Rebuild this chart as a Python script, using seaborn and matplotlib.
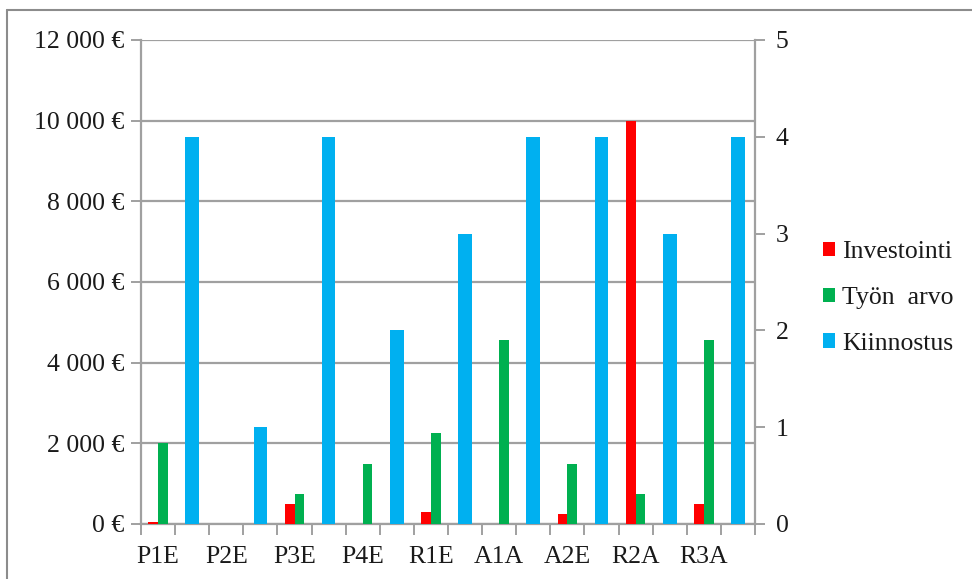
import numpy as np
import pandas as pd
import matplotlib
matplotlib.use("Agg")
import matplotlib.pyplot as plt
from matplotlib.patches import Patch
from matplotlib.lines import Line2D
import seaborn as sns

# Data
categories = ["P1E", "P2E", "P3E", "P4E", "R1E", "A1A", "A2E", "R2A", "R3A"]
investointi = [60, 0, 500, 0, 300, 0, 250, 10000, 500]
tyon_arvo = [2000, 0, 750, 1500, 2250, 4570, 1500, 750, 4570]
kiinnostus = [4, 1, 4, 2, 3, 4, 4, 3, 4]

series_names = ["Investointi", "Työn  arvo", "Kiinnostus"]
colors = ["#FF0000", "#00B050", "#00B0F0"]
left_ticks = [0, 2000, 4000, 6000, 8000, 10000, 12000]
left_tick_labels = ["0 €", "2 000 €", "4 000 €", "6 000 €", "8 000 €", "10 000 €", "12 000 €"]
right_ticks = [0, 1, 2, 3, 4, 5]

# Each category gets two slots: euro bars in the first, interest bar in the second
slots = []
for c in categories:
    slots += [c, c + "_k"]

money = pd.DataFrame({
    "slot": categories * 2,
    "series": [series_names[0]] * len(categories) + [series_names[1]] * len(categories),
    "value": investointi + tyon_arvo,
})
interest = pd.DataFrame({"slot": [c + "_k" for c in categories], "value": kiinnostus})

sns.set_theme(style="white")
plt.rcParams["font.family"] = ["Liberation Serif", "DejaVu Serif"]
text_color = "#1a1a1a"
axis_gray = "#a0a0a0"
fs = 18.5

fig = plt.figure(figsize=(9.72, 5.79), dpi=100)
ax = fig.add_axes([141 / 972, 1 - 524 / 579, (755 - 141) / 972, (524 - 40) / 579])
ax2 = ax.twinx()

sns.barplot(data=money, x="slot", y="value", hue="series", order=slots,
            hue_order=series_names[:2], palette=colors[:2], width=0.57,
            saturation=1, ax=ax, legend=False, zorder=3, linewidth=0)
sns.barplot(data=interest, x="slot", y="value", order=slots, color=colors[2],
            width=0.4, saturation=1, ax=ax2, linewidth=0)

for a in (ax, ax2):
    a.set_xlabel("")
    a.set_ylabel("")
    a.set_xlim(-0.5, len(slots) - 0.5)
    for s in a.spines.values():
        s.set_visible(False)

ax.set_ylim(0, 12000)
ax2.set_ylim(0, 5)
ax.set_yticks(left_ticks)
ax.set_yticklabels(left_tick_labels, fontsize=fs, color=text_color)
ax2.set_yticks(right_ticks)
ax2.set_yticklabels([str(t) for t in right_ticks], fontsize=fs, color=text_color)

ax.yaxis.grid(True, color=axis_gray, linewidth=1.6)
ax.set_axisbelow(True)
ax2.grid(False)

ax.spines["left"].set_visible(True)
ax.spines["bottom"].set_visible(True)
ax2.spines["right"].set_visible(True)
for s in (ax.spines["left"], ax.spines["bottom"], ax2.spines["right"]):
    s.set_color(axis_gray)
    s.set_linewidth(1.6)
    s.set_zorder(2)

ax.tick_params(axis="y", direction="out", length=7, width=1.4, color=axis_gray, pad=5, left=True)
ax2.tick_params(axis="y", direction="out", length=7, width=1.4, color=axis_gray, pad=8, right=True)

# Category labels on the first slot of each pair, tick marks at slot boundaries
ax.set_xticks(np.arange(0, len(slots), 2))
ax.set_xticklabels(categories, fontsize=fs, color=text_color)
ax.set_xticks(np.arange(-0.5, len(slots), 1), minor=True)
ax.tick_params(axis="x", which="major", length=0, pad=16)
ax.tick_params(axis="x", which="minor", direction="out", length=8, width=1.4,
               color=axis_gray, bottom=True)

handles = [Patch(facecolor=c, edgecolor="none") for c in colors]
fig.legend(handles, series_names, loc="center left", bbox_to_anchor=(810 / 972, 1 - 298 / 579),
           frameon=False, fontsize=fs, labelcolor=text_color, borderpad=0,
           handlelength=0.47, handleheight=0.47, handletextpad=0.27, labelspacing=0.92)

# Outer chart frame
frame_col = "#8c8c8c"
fig.add_artist(Line2D([7 / 972, 1], [1 - 10 / 579, 1 - 10 / 579], color=frame_col, linewidth=1.5))
fig.add_artist(Line2D([7 / 972, 7 / 972], [0, 1 - 10 / 579], color=frame_col, linewidth=1.5))

fig.savefig("out.png", dpi=100)
